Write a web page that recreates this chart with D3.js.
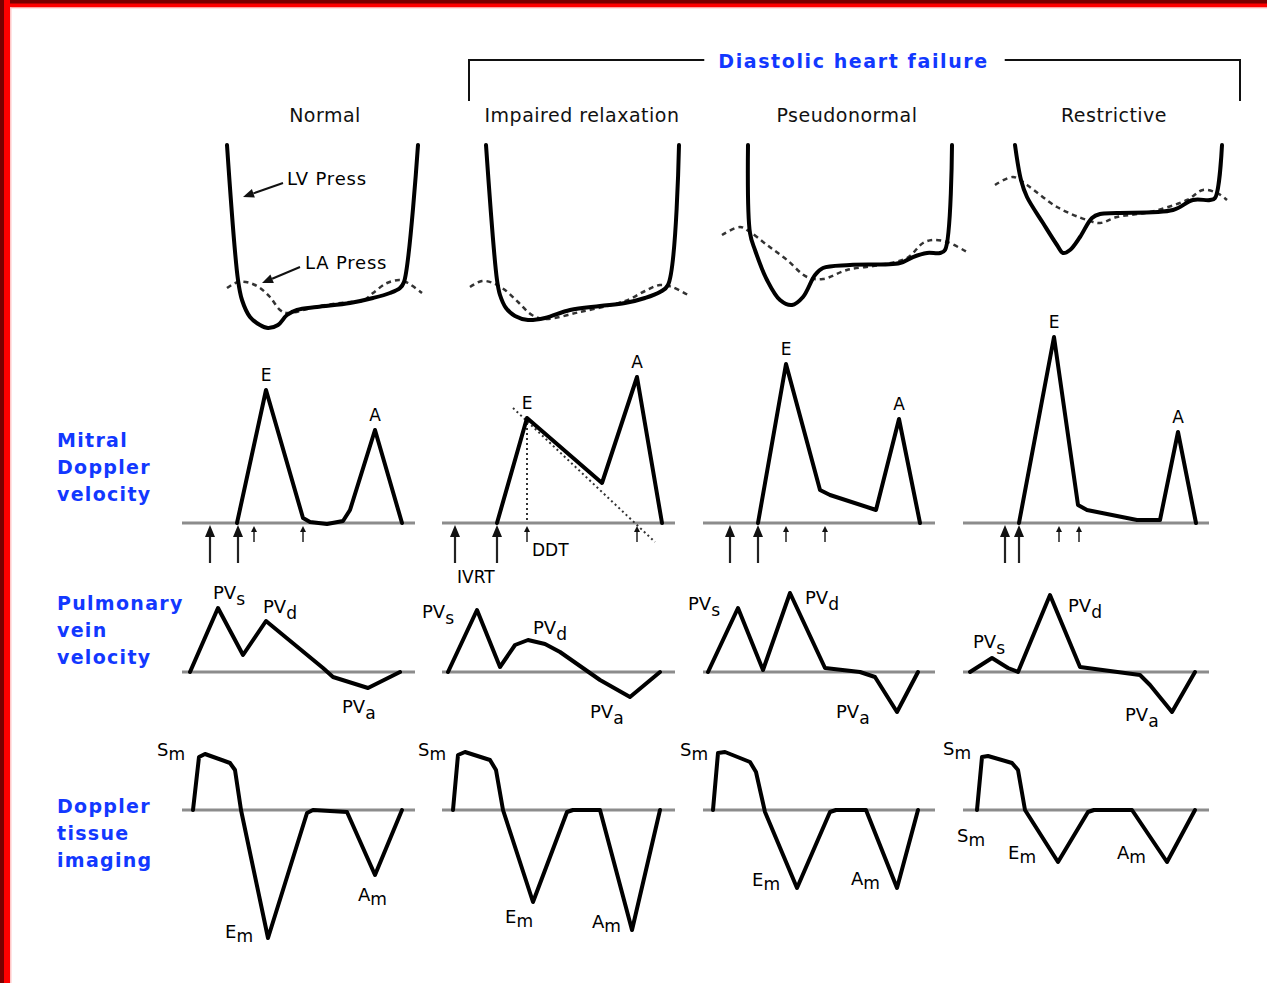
<!DOCTYPE html>
<html>
<head>
<meta charset="utf-8">
<script src="https://cdn.jsdelivr.net/npm/d3@7"></script>
<style>
  html, body { margin: 0; padding: 0; background: #fff; }
  svg { display: block; }
</style>
</head>
<body>
<svg id="chart" width="1267" height="983"></svg>
<script>
// ---- Labels -------------------------------------------------------------
const columns = ["Normal", "Impaired relaxation", "Pseudonormal", "Restrictive"];
const groupTitle = "Diastolic heart failure";
const rowTitles = [
  ["Mitral", "Doppler", "velocity"],
  ["Pulmonary", "vein", "velocity"],
  ["Doppler", "tissue", "imaging"]
];

// ---- Pressures (time in ms, pressure in mmHg) ---------------------------
const lvPressure = [
  [[225,48.75],[280,15],[300,10],[340,5.75],[390,3.75],[430,3],[480,3.75],[525,6.25],[575,7.5],[675,8.25],[840,9.25],[955,10.5],[1040,11.75],[1090,13],[1110,14.5],[1180,48.75]],
  [[220,48.75],[275,15],[290,11.25],[320,8],[365,6],[430,5],[515,5.5],[640,7.5],[790,8.5],[915,9.25],[1015,10.5],[1090,12],[1130,13.75],[1185,48.75]],
  [[230,48.75],[240,26.75],[265,22.5],[325,15],[390,10],[450,8.75],[505,10.75],[565,16.25],[605,18],[740,18.75],[990,19.25],[1055,20.75],[1125,21.75],[1190,21.75],[1215,22.5],[1250,48.75]],
  [[265,48.75],[295,40],[325,35.75],[405,29.25],[475,23.75],[505,21.75],[540,22.5],[590,25.75],[650,30.5],[690,31.5],[775,31.75],[1055,32.5],[1155,35],[1240,35],[1265,35.5],[1300,48.75]]
];
const laPressure = [
  [[225,13],[280,14.5],[340,14.25],[390,13],[440,10.75],[490,7.5],[525,6.75],[690,8.5],[840,9.5],[905,9.75],[955,11.75],[1025,14.25],[1090,15],[1130,14.25],[1200,11.75]],
  [[140,13.25],[200,14.75],[255,14.25],[315,12.5],[380,9.5],[450,6.25],[515,5.25],[690,7],[865,9],[940,10.25],[1015,12.25],[1090,13.75],[1150,13.25],[1230,11.25]],
  [[100,26.25],[190,28.25],[240,27],[325,23.75],[425,20],[525,15.75],[605,15.25],[725,17.5],[890,18.75],[1025,20.5],[1105,24.25],[1155,25],[1225,24.5],[1325,22]],
  [[165,38.75],[255,40.75],[325,38.75],[475,33.25],[625,30],[690,29.25],[775,30.75],[940,32],[1125,35],[1205,37.5],[1275,36.75],[1325,35]]
];
const pressureNotes = [
  { text: "LV Press", at: [525, 40.5], from: [505, 39.25], to: [305, 35.75] },
  { text: "LA Press", at: [615, 19.5], from: [590, 18.25], to: [400, 14.25] }
];

// ---- Mitral inflow velocity (cm/s) -------------------------------------
const mitralFlow = [
  [[275,0],[420,66.5],[605,2.5],[640,0.5],[725,-0.5],[805,1],[840,6.5],[965,46.5],[1100,0]],
  [[275,0],[425,52.5],[800,20],[975,73],[1100,0]],
  [[280,0],[420,79.5],[590,16.5],[640,14],[870,6.5],[985,52],[1090,0]],
  [[285,0],[460,93],[580,9],[625,6.5],[875,1.5],[990,1.5],[1080,45.5],[1170,0]]
];
const mitralWaves = [
  [["E",420],["A",965]],
  [["E",425],["A",975]],
  [["E",420],["A",985]],
  [["E",460],["A",1080]]
];
// timing markers: valve events (large) and deceleration start/end (small)
const timingMajor = [[140,280],[65,275],[140,280],[215,285]];
const timingMinor = [[360,605],[425,975],[420,615],[485,585]];
const decelSlope = [[355,57.5],[1065,-9.5]];
const intervalNotes = [
  { text: "DDT", at: [450, -13.5] },
  { text: "IVRT", at: [75, -27] }
];

// ---- Pulmonary vein velocity (cm/s) ------------------------------------
const pulmonaryFlow = [
  [[40,0],[180,32],[305,8.5],[420,25.5],[705,2],[755,-2.5],[930,-8],[1090,0]],
  [[30,0],[175,31],[290,2.5],[365,13.5],[430,16],[515,14],[590,10],[790,-4],[940,-12.5],[1090,0]],
  [[30,0],[180,32],[305,1],[440,39.5],[615,2],[790,0],[865,-2.5],[975,-20],[1080,0]],
  [[40,0],[150,7],[230,2],[280,0],[440,38.5],[590,2.5],[890,-1.5],[940,-6.5],[1050,-20],[1165,0]]
];
const pulmonaryLabels = [
  [["s",155,39.5],["d",405,32.5],["a",800,-17.5]],
  [["s",-100,30],["d",455,22],["a",740,-20]],
  [["s",-70,34],["d",515,37],["a",670,-20]],
  [["s",55,15],["d",530,33],["a",815,-21.5]]
];

// ---- Tissue Doppler myocardial velocity (cm/s) --------------------------
const tissueVelocity = [
  [[55,0],[85,10.6],[115,11.2],[240,9.4],[265,8],[295,0],[430,-25.6],[625,-0.6],[655,0],[825,-0.4],[965,-13],[1100,0]],
  [[55,0],[80,11],[115,11.6],[240,10],[270,8],[305,0],[455,-18.4],[625,-0.4],[655,0],[790,0],[950,-24],[1090,0]],
  [[55,0],[80,11.4],[115,11.6],[240,9.6],[270,7.6],[315,-0.4],[475,-15.6],[640,-0.4],[670,0],[820,0],[975,-15.6],[1080,0]],
  [[75,0],[100,10.6],[130,10.8],[250,9.4],[280,8],[315,0],[480,-10.4],[630,-0.4],[660,0],[850,0],[1025,-10.4],[1165,0]]
];
const tissueLabels = [
  [["S",-125,12],["E",215,-24.4],["A",880,-17]],
  [["S",-120,12],["E",315,-21.4],["A",750,-22.4]],
  [["S",-110,12],["E",250,-14],["A",745,-13.8]],
  [["S",-95,12.2],["S",-25,-5.2],["E",230,-8.6],["A",775,-8.6]]
];

// time span of each panel's zero line, and where its heading sits
const zeroSpan = [[0,1165],[0,1165],[5,1165],[5,1235]];
const headingTime = [715, 700, 725, 760];

// ---- Layout -------------------------------------------------------------
const W = 1267, H = 983;
const BLUE = "#1238ff";
const FONT = "'DejaVu Sans', 'Liberation Sans', sans-serif";
const svg = d3.select("#chart");

const panelLeft = i => 182 + 260 * i;
const xScales = columns.map((c, i) =>
  d3.scaleLinear().domain([0, 1000]).range([panelLeft(i), panelLeft(i) + 200]));

const yPress  = d3.scaleLinear().domain([0, 48.75]).range([340, 145]);
const yMitral = d3.scaleLinear().domain([0, 100]).range([523, 323]);
const yPulm   = d3.scaleLinear().domain([0, 40]).range([672, 592]);
const yTissue = d3.scaleLinear().domain([0, 15]).range([810, 735]);

// frame
svg.append("rect").attr("x",0).attr("y",0).attr("width",W).attr("height",H).attr("fill","#fff");
svg.append("rect").attr("x",0).attr("y",0).attr("width",W).attr("height",7.5).attr("fill","#ff0000");
svg.append("rect").attr("x",0).attr("y",0).attr("width",W).attr("height",3.5).attr("fill","#7a0000");
svg.append("rect").attr("x",0).attr("y",7.5).attr("width",W).attr("height",1).attr("fill","#ffc8c8");
svg.append("rect").attr("x",0).attr("y",0).attr("width",10).attr("height",H).attr("fill","#ff0000");
svg.append("rect").attr("x",0).attr("y",0).attr("width",4).attr("height",H).attr("fill","#7a0000");
svg.append("rect").attr("x",10).attr("y",7.5).attr("width",1.5).attr("height",H).attr("fill","#ffc8c8");

// ---- Headings -----------------------------------------------------------
const headG = svg.append("g").attr("font-family", FONT);
headG.selectAll("text.col").data(columns).join("text")
  .attr("class","col")
  .attr("x", (d, i) => xScales[i](headingTime[i]))
  .attr("y", 115)
  .attr("text-anchor","middle")
  .attr("dominant-baseline","central")
  .attr("font-size", 19)
  .attr("letter-spacing", 0.5)
  .attr("fill","#111")
  .text(d => d);

const gt = headG.append("text")
  .attr("x", 853.5).attr("y", 61)
  .attr("text-anchor","middle")
  .attr("dominant-baseline","central")
  .attr("font-size", 19).attr("font-weight","bold")
  .attr("letter-spacing", 1.6)
  .attr("fill", BLUE)
  .text(groupTitle);
const gtLen = gt.node().getComputedTextLength();
const bracketY = 60, bracketL = 469, bracketR = 1240, bracketBottom = 101;
headG.append("path")
  .attr("d", `M${bracketL},${bracketBottom}V${bracketY}H${853.5 - gtLen/2 - 14}` +
             `M${853.5 + gtLen/2 + 16},${bracketY}H${bracketR}V${bracketBottom}`)
  .attr("fill","none").attr("stroke","#111").attr("stroke-width",2);

// row titles
const rowTitleTop = [440, 603, 806];
rowTitles.forEach((lines, r) => {
  headG.append("g").selectAll("text").data(lines).join("text")
    .attr("x", 57)
    .attr("y", (d, k) => rowTitleTop[r] + 27 * k)
    .attr("dominant-baseline","central")
    .attr("font-size", 19).attr("font-weight","bold")
    .attr("letter-spacing", 1.3)
    .attr("fill", BLUE)
    .text(d => d);
});

// ---- Helpers ------------------------------------------------------------
const curveStroke = sel => sel
  .attr("fill","none").attr("stroke","#000").attr("stroke-width",4)
  .attr("stroke-linejoin","round").attr("stroke-linecap","round");

function zeroLine(g, i, y) {
  g.append("line")
    .attr("x1", xScales[i](zeroSpan[i][0])).attr("x2", xScales[i](zeroSpan[i][1]))
    .attr("y1", y(0)).attr("y2", y(0))
    .attr("stroke","#8c8c8c").attr("stroke-width",3);
}

function subLabel(g, x, y, main, sub, size, drop) {
  const t = g.append("text")
    .attr("x", x).attr("y", y + size * 0.36)
    .attr("font-size", size).attr("fill","#000");
  t.append("tspan").text(main);
  t.append("tspan").attr("dy", drop).attr("font-size", size * 0.95).text(sub);
}

function upArrow(g, x, tipY, tailY, headLen, halfW, width) {
  g.append("line").attr("x1",x).attr("x2",x).attr("y1",tailY).attr("y2",tipY + headLen - 1)
    .attr("stroke","#222").attr("stroke-width",width);
  g.append("path")
    .attr("d", `M${x},${tipY}L${x - halfW},${tipY + headLen}L${x + halfW},${tipY + headLen}Z`)
    .attr("fill","#111");
}

const pressLine = d3.line().curve(d3.curveCatmullRom.alpha(0.5));
const flowLine = d3.line();

// ---- Panels ------------------------------------------------------------
columns.forEach((name, i) => {
  const x = xScales[i];
  const g = svg.append("g").attr("font-family", FONT);

  // pressures
  g.append("path")
    .attr("d", pressLine(laPressure[i].map(d => [x(d[0]), yPress(d[1])])))
    .attr("fill","none").attr("stroke","#333").attr("stroke-width",2.5)
    .attr("stroke-dasharray","5,4");
  g.append("path")
    .attr("d", pressLine(lvPressure[i].map(d => [x(d[0]), yPress(d[1])])))
    .call(curveStroke);

  // mitral inflow
  zeroLine(g, i, yMitral);
  if (i === 1) {
    g.append("line")
      .attr("x1", x(decelSlope[0][0])).attr("y1", yMitral(decelSlope[0][1]))
      .attr("x2", x(decelSlope[1][0])).attr("y2", yMitral(decelSlope[1][1]))
      .attr("stroke","#333").attr("stroke-width",2).attr("stroke-dasharray","2,3");
    const ePeak = mitralFlow[i].find(d => d[0] === mitralWaves[i][0][1]);
    g.append("line")
      .attr("x1", x(ePeak[0])).attr("x2", x(ePeak[0]))
      .attr("y1", yMitral(ePeak[1])).attr("y2", yMitral(0))
      .attr("stroke","#333").attr("stroke-width",2).attr("stroke-dasharray","2,3");
    intervalNotes.forEach(n => {
      g.append("text").attr("x", x(n.at[0])).attr("y", yMitral(n.at[1]))
        .attr("dominant-baseline","central").attr("font-size",17).attr("fill","#000")
        .text(n.text);
    });
  }
  g.append("path")
    .attr("d", flowLine(mitralFlow[i].map(d => [x(d[0]), yMitral(d[1])])))
    .call(curveStroke);
  mitralWaves[i].forEach(([w, t]) => {
    const p = mitralFlow[i].find(d => d[0] === t);
    g.append("text").attr("x", x(p[0])).attr("y", yMitral(p[1]) - 15)
      .attr("text-anchor","middle").attr("dominant-baseline","central")
      .attr("font-size",17).attr("fill","#000").text(w);
  });
  timingMajor[i].forEach(t => upArrow(g, x(t), yMitral(0) + 2, yMitral(0) + 40, 12, 5, 2.2));
  timingMinor[i].forEach(t => upArrow(g, x(t), yMitral(0) + 3, yMitral(0) + 19, 6, 3, 1.5));

  // pulmonary vein flow
  zeroLine(g, i, yPulm);
  g.append("path")
    .attr("d", flowLine(pulmonaryFlow[i].map(d => [x(d[0]), yPulm(d[1])])))
    .call(curveStroke);
  pulmonaryLabels[i].forEach(([s, t, v]) => subLabel(g, x(t), yPulm(v), "PV", s, 18, 6));

  // tissue Doppler
  zeroLine(g, i, yTissue);
  g.append("path")
    .attr("d", flowLine(tissueVelocity[i].map(d => [x(d[0]), yTissue(d[1])])))
    .call(curveStroke);
  tissueLabels[i].forEach(([s, t, v]) => subLabel(g, x(t), yTissue(v), s, "m", 18, 4));

  // pressure annotations (first panel)
  if (i === 0) {
    pressureNotes.forEach(n => {
      g.append("text").attr("x", x(n.at[0])).attr("y", yPress(n.at[1]))
        .attr("dominant-baseline","central").attr("font-size",18)
        .attr("letter-spacing",0.8).attr("fill","#000").text(n.text);
      const x1 = x(n.from[0]), y1 = yPress(n.from[1]);
      const x2 = x(n.to[0]), y2 = yPress(n.to[1]);
      const ang = Math.atan2(y2 - y1, x2 - x1);
      const hl = 11, hw = 4.5;
      const bx = x2 - hl * Math.cos(ang), by = y2 - hl * Math.sin(ang);
      g.append("line").attr("x1",x1).attr("y1",y1).attr("x2",bx).attr("y2",by)
        .attr("stroke","#111").attr("stroke-width",2);
      g.append("path")
        .attr("d", `M${x2},${y2}L${bx + hw*Math.sin(ang)},${by - hw*Math.cos(ang)}L${bx - hw*Math.sin(ang)},${by + hw*Math.cos(ang)}Z`)
        .attr("fill","#111");
    });
  }
});
</script>
</body>
</html>
